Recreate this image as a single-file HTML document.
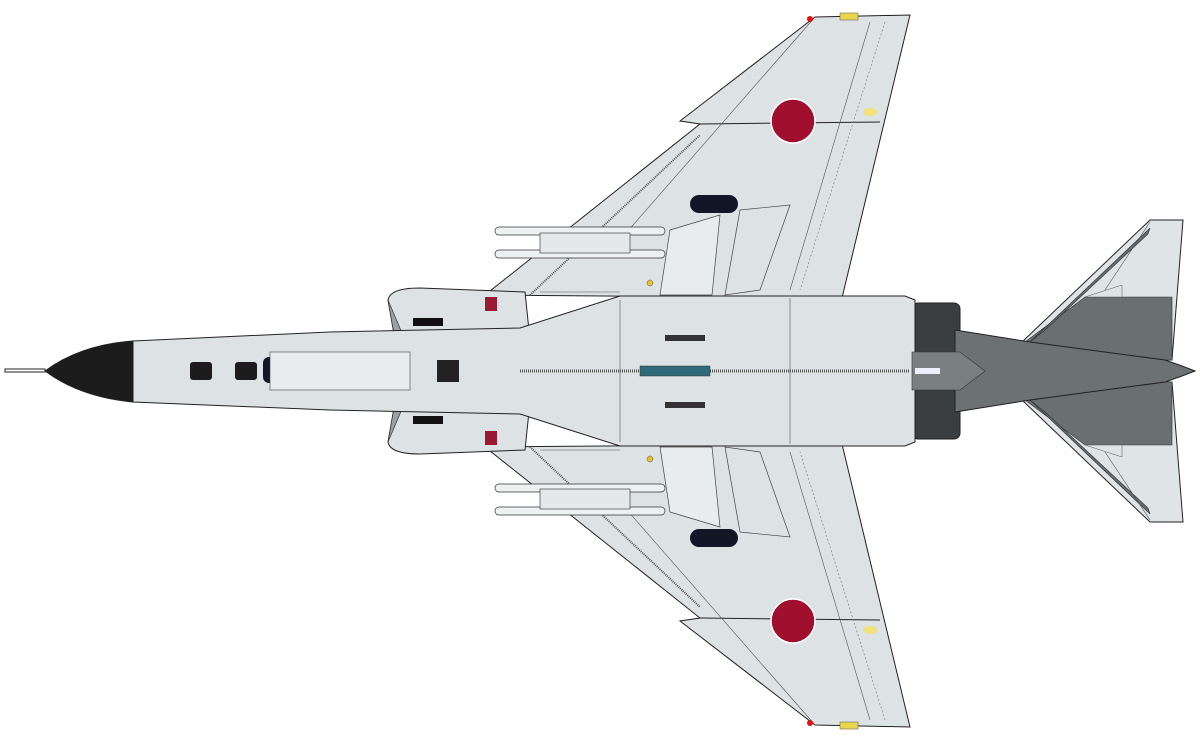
<!DOCTYPE html>
<html><head><meta charset="utf-8"><style>html,body{margin:0;padding:0;background:#fff}svg{display:block}</style></head>
<body>
<svg width="1200" height="743" viewBox="0 0 1200 743" xmlns="http://www.w3.org/2000/svg">
<defs>
<g id="half" stroke="#222" stroke-width="1">
  <!-- wing -->
  <polygon points="485,295 700,124 680,121 815,17 910,15 842,298" fill="#dde2e4"/>
  <line x1="700" y1="124" x2="880" y2="122" stroke-width="1"/>
  <line x1="815" y1="17" x2="620" y2="240" stroke="#555" stroke-width="0.6"/>
  <line x1="870" y1="22" x2="790" y2="290" stroke="#555" stroke-width="0.6"/>
  <line x1="885" y1="22" x2="800" y2="290" stroke="#777" stroke-width="0.6" stroke-dasharray="2,2"/>
  <line x1="530" y1="295" x2="700" y2="135" stroke="#555" stroke-width="2" stroke-dasharray="1,1"/>
  <line x1="540" y1="292" x2="620" y2="292" stroke="#555" stroke-width="0.6"/>
  <circle cx="810" cy="19" r="3" fill="#d11" stroke="none"/>
  <rect x="840" y="13" width="18" height="7" fill="#e8d64a" stroke="#555" stroke-width="0.5"/>
  <circle cx="793" cy="121" r="22" fill="#a0102e" stroke="#fff" stroke-width="1.5"/>
  <ellipse cx="870" cy="112" rx="7" ry="4" fill="#f1e27a" stroke="none"/>
  <!-- gear well -->
  <rect x="690" y="195" width="48" height="18" rx="9" fill="#121626" stroke="none"/>
  <polygon points="670,230 720,215 712,295 660,295" fill="#e8ecee" stroke="#444" stroke-width="0.7"/>
  <polygon points="740,210 790,205 760,290 725,295" fill="#dde2e4" stroke="#444" stroke-width="0.7"/>
  <circle cx="650" cy="283" r="3" fill="#e8c030" stroke="#555" stroke-width="0.5"/>
  <!-- missiles -->
  <rect x="495" y="227" width="170" height="8" rx="4" fill="#eef1f2" stroke="#333" stroke-width="0.7"/>
  <rect x="495" y="250" width="170" height="8" rx="4" fill="#eef1f2" stroke="#333" stroke-width="0.7"/>
  <rect x="540" y="233" width="90" height="20" fill="#e4e8ea" stroke="#444" stroke-width="0.7"/>
  <!-- intake -->
  <path d="M388,300 Q390,288 420,288 L525,292 L530,340 L395,340 Z" fill="#dde2e4"/>
  <path d="M388,300 L405,340 L395,340 Z" fill="#9aa0a3" stroke="#333" stroke-width="0.7"/>
  <rect x="485" y="297" width="12" height="14" fill="#9a1a35" stroke="none"/>
  <rect x="413" y="318" width="30" height="8" fill="#111" stroke="none"/>
  <!-- stabilator -->
  <polygon points="1022,342 1150,220 1183,220 1172,360 1022,360" fill="#dfe4e6"/>
  <polygon points="1025,342 1085,297 1172,297 1172,360 1025,360" fill="#6a6f71" stroke="#333" stroke-width="0.6"/>
  <polygon points="1085,297 1122,285 1122,297" fill="#dfe4e6" stroke="#555" stroke-width="0.5"/>
  <polygon points="1030,342 1150,228 1148,234 1045,330" fill="#666b6e" stroke="#333" stroke-width="0.6"/>
  <line x1="1150" y1="222" x2="1105" y2="290" stroke="#555" stroke-width="0.6"/>
  <!-- engine nozzle -->
  <rect x="912" y="303" width="48" height="62" rx="6" fill="#3b3e40"/>
</g>
</defs>
<use href="#half"/>
<use href="#half" transform="translate(0,742) scale(1,-1)"/>
<!-- fuselage -->
<g stroke="#222" stroke-width="1">
  <path d="M133,341 L330,332 L520,328 L620,296 L905,296 L915,300 L915,442 L905,446 L620,446 L520,414 L330,410 L133,402 Z" fill="#dde2e4"/>
  <path d="M45,371 Q80,345 133,341 L133,402 Q80,397 45,371 Z" fill="#1c1c1c"/>
  <rect x="5" y="369" width="40" height="3" fill="#fff"/>
  <rect x="190" y="362" width="22" height="18" rx="3" fill="#1c1c1c" stroke="none"/>
  <rect x="235" y="362" width="22" height="18" rx="3" fill="#1c1c1c" stroke="none"/>
  <rect x="263" y="357" width="28" height="26" rx="6" fill="#121626" stroke="none"/>
  <rect x="270" y="352" width="140" height="38" fill="#e8ecee" stroke="#444" stroke-width="0.6"/>
  <rect x="437" y="360" width="22" height="22" fill="#222" stroke="none"/>
  <line x1="520" y1="371" x2="910" y2="371" stroke="#555" stroke-width="3" stroke-dasharray="1,1"/>
  <line x1="620" y1="300" x2="620" y2="442" stroke="#555" stroke-width="0.6"/>
  <line x1="790" y1="298" x2="790" y2="444" stroke="#555" stroke-width="0.6"/>
  <rect x="640" y="366" width="70" height="10" fill="#2f6a7a" stroke="#333" stroke-width="0.5"/>
  <rect x="665" y="335" width="40" height="6" fill="#333" stroke="none"/>
  <rect x="665" y="402" width="40" height="6" fill="#333" stroke="none"/>
  <path d="M955,330 L1030,342 L1165,360 Q1180,365 1195,371 Q1180,377 1165,382 L1030,400 L955,412 Z" fill="#6c7174"/>
  <path d="M912,352 L960,352 L985,371 L960,390 L912,390 Z" fill="#7a7f82" stroke="#333" stroke-width="0.6"/>
  <rect x="915" y="368" width="25" height="6" fill="#eef" stroke="none"/>
</g>
</svg>
</body></html>
